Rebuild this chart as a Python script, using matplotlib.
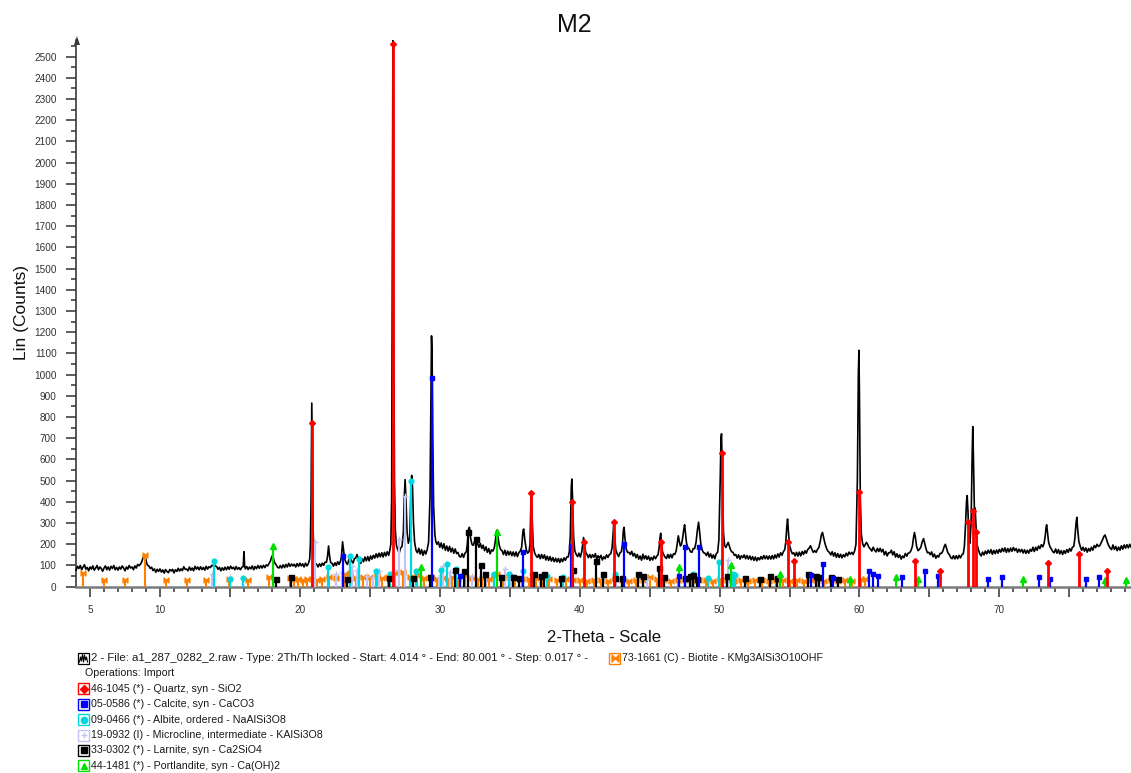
import matplotlib
matplotlib.use("Agg")
import matplotlib.pyplot as plt
from matplotlib.path import Path
from matplotlib.patches import Rectangle

plt.rcParams["font.family"] = ["Liberation Sans", "DejaVu Sans"]

# ---------------------------------------------------------------- scan data
scan_2theta = [
    4.0, 4.1, 4.2, 4.3, 4.4, 4.5, 4.6, 4.7, 4.8, 4.9,
    5.0, 5.1, 5.2, 5.3, 5.4, 5.5, 5.6, 5.7, 5.8, 5.9,
    6.0, 6.1, 6.2, 6.3, 6.4, 6.5, 6.6, 6.7, 6.8, 6.9,
    7.0, 7.1, 7.2, 7.3, 7.4, 7.5, 7.6, 7.7, 7.8, 7.9,
    8.0, 8.1, 8.2, 8.3, 8.4, 8.5, 8.6, 8.7, 8.8, 8.87,
    8.95, 9.02, 9.1, 9.2, 9.3, 9.4, 9.5, 9.6, 9.7, 9.8,
    9.9, 10.0, 10.1, 10.2, 10.3, 10.4, 10.5, 10.6, 10.7, 10.8,
    10.9, 11.0, 11.1, 11.2, 11.3, 11.4, 11.5, 11.6, 11.7, 11.8,
    11.9, 12.0, 12.1, 12.2, 12.3, 12.4, 12.5, 12.6, 12.7, 12.8,
    12.9, 13.0, 13.1, 13.2, 13.3, 13.4, 13.5, 13.6, 13.7, 13.8,
    13.88, 13.95, 14.05, 14.15, 14.25, 14.35, 14.45, 14.55, 14.65, 14.75,
    14.85, 14.95, 15.05, 15.15, 15.25, 15.35, 15.45, 15.55, 15.65, 15.75,
    15.85, 15.95, 16.0, 16.05, 16.1, 16.2, 16.3, 16.4, 16.5, 16.6,
    16.7, 16.8, 16.9, 17.0, 17.1, 17.2, 17.3, 17.4, 17.5, 17.6,
    17.7, 17.8, 17.9, 17.98, 18.05, 18.12, 18.2, 18.3, 18.4, 18.5,
    18.6, 18.7, 18.8, 18.9, 19.0, 19.1, 19.2, 19.3, 19.4, 19.5,
    19.6, 19.7, 19.8, 19.9, 20.0, 20.1, 20.2, 20.3, 20.4, 20.5,
    20.6, 20.7, 20.75, 20.8, 20.85, 20.9, 20.95, 21.0, 21.05, 21.1,
    21.2, 21.3, 21.4, 21.5, 21.6, 21.7, 21.8, 21.9, 21.97, 22.05,
    22.12, 22.2, 22.3, 22.4, 22.5, 22.6, 22.7, 22.8, 22.9, 22.97,
    23.05, 23.12, 23.2, 23.3, 23.4, 23.5, 23.6, 23.7, 23.8, 23.9,
    24.0, 24.08, 24.15, 24.25, 24.35, 24.45, 24.55, 24.65, 24.75, 24.85,
    24.95, 25.05, 25.15, 25.25, 25.35, 25.45, 25.55, 25.65, 25.75, 25.85,
    25.95, 26.05, 26.15, 26.25, 26.35, 26.42, 26.5, 26.56, 26.6, 26.63,
    26.65, 26.68, 26.71, 26.76, 26.82, 26.9, 27.0, 27.1, 27.2, 27.3,
    27.4, 27.46, 27.52, 27.58, 27.66, 27.75, 27.85, 27.93, 27.99, 28.05,
    28.12, 28.2, 28.3, 28.4, 28.5, 28.6, 28.7, 28.8, 28.9, 29.0,
    29.1, 29.2, 29.3, 29.36, 29.41, 29.45, 29.5, 29.56, 29.65, 29.72,
    29.8, 29.9, 30.0, 30.1, 30.2, 30.3, 30.4, 30.5, 30.6, 30.7,
    30.8, 30.9, 31.0, 31.1, 31.2, 31.3, 31.4, 31.5, 31.6, 31.7,
    31.8, 31.9, 31.97, 32.05, 32.12, 32.2, 32.3, 32.4, 32.48, 32.55,
    32.62, 32.7, 32.8, 32.9, 33.0, 33.1, 33.2, 33.3, 33.4, 33.5,
    33.6, 33.7, 33.8, 33.9, 33.97, 34.05, 34.1, 34.17, 34.25, 34.35,
    34.45, 34.55, 34.65, 34.75, 34.85, 34.95, 35.05, 35.15, 35.25, 35.35,
    35.45, 35.55, 35.65, 35.75, 35.85, 35.95, 36.0, 36.08, 36.18, 36.28,
    36.38, 36.45, 36.52, 36.55, 36.6, 36.68, 36.78, 36.88, 36.98, 37.08,
    37.18, 37.28, 37.38, 37.48, 37.58, 37.68, 37.78, 37.88, 37.98, 38.08,
    38.18, 38.28, 38.38, 38.48, 38.58, 38.68, 38.78, 38.88, 38.98, 39.08,
    39.18, 39.26, 39.33, 39.4, 39.44, 39.5, 39.57, 39.65, 39.75, 39.85,
    39.95, 40.05, 40.15, 40.22, 40.28, 40.35, 40.43, 40.52, 40.62, 40.72,
    40.82, 40.92, 41.02, 41.12, 41.22, 41.32, 41.42, 41.52, 41.62, 41.72,
    41.82, 41.92, 42.02, 42.12, 42.22, 42.32, 42.38, 42.44, 42.5, 42.58,
    42.68, 42.78, 42.88, 42.98, 43.06, 43.12, 43.17, 43.24, 43.32, 43.42,
    43.52, 43.62, 43.72, 43.82, 43.92, 44.02, 44.12, 44.22, 44.32, 44.42,
    44.52, 44.62, 44.72, 44.82, 44.92, 45.02, 45.12, 45.22, 45.32, 45.42,
    45.52, 45.6, 45.68, 45.74, 45.79, 45.85, 45.92, 46.0, 46.1, 46.2,
    46.3, 46.4, 46.5, 46.6, 46.7, 46.8, 46.9, 46.98, 47.05, 47.12,
    47.2, 47.28, 47.36, 47.44, 47.5, 47.56, 47.64, 47.72, 47.82, 47.92,
    48.02, 48.12, 48.22, 48.32, 48.42, 48.5, 48.58, 48.66, 48.76, 48.86,
    48.96, 49.06, 49.16, 49.26, 49.36, 49.46, 49.56, 49.66, 49.76, 49.86,
    49.95, 50.05, 50.1, 50.14, 50.2, 50.28, 50.36, 50.45, 50.55, 50.62,
    50.7, 50.78, 50.86, 50.96, 51.06, 51.16, 51.26, 51.36, 51.46, 51.56,
    51.66, 51.76, 51.86, 51.96, 52.06, 52.16, 52.26, 52.36, 52.46, 52.56,
    52.66, 52.76, 52.86, 52.96, 53.06, 53.16, 53.26, 53.36, 53.46, 53.56,
    53.66, 53.76, 53.86, 53.96, 54.06, 54.16, 54.26, 54.36, 54.46, 54.56,
    54.66, 54.74, 54.8, 54.86, 54.92, 55.0, 55.1, 55.2, 55.3, 55.4,
    55.5, 55.6, 55.7, 55.8, 55.9, 56.0, 56.1, 56.2, 56.3, 56.4,
    56.5, 56.6, 56.7, 56.8, 56.9, 57.0, 57.1, 57.2, 57.28, 57.36,
    57.45, 57.55, 57.65, 57.75, 57.85, 57.95, 58.05, 58.15, 58.25, 58.35,
    58.45, 58.55, 58.65, 58.75, 58.85, 58.95, 59.05, 59.15, 59.25, 59.35,
    59.45, 59.55, 59.65, 59.75, 59.85, 59.92, 59.96, 60.0, 60.06, 60.13,
    60.22, 60.32, 60.42, 60.5, 60.58, 60.68, 60.78, 60.88, 60.98, 61.08,
    61.18, 61.28, 61.38, 61.48, 61.58, 61.68, 61.78, 61.88, 61.98, 62.08,
    62.18, 62.28, 62.38, 62.48, 62.58, 62.68, 62.78, 62.88, 62.98, 63.08,
    63.18, 63.28, 63.38, 63.48, 63.58, 63.68, 63.78, 63.86, 63.93, 64.0,
    64.08, 64.18, 64.28, 64.38, 64.48, 64.58, 64.66, 64.76, 64.86, 64.96,
    65.06, 65.16, 65.26, 65.36, 65.46, 65.56, 65.66, 65.76, 65.86, 65.96,
    66.06, 66.14, 66.22, 66.32, 66.42, 66.52, 66.62, 66.72, 66.82, 66.92,
    67.02, 67.12, 67.22, 67.32, 67.42, 67.5, 67.58, 67.65, 67.7, 67.76,
    67.82, 67.9, 67.98, 68.05, 68.1, 68.15, 68.22, 68.27, 68.32, 68.4,
    68.5, 68.6, 68.7, 68.8, 68.9, 69.0, 69.1, 69.2, 69.3, 69.4,
    69.5, 69.6, 69.7, 69.8, 69.9, 70.0, 70.1, 70.2, 70.3, 70.4,
    70.5, 70.6, 70.7, 70.8, 70.9, 71.0, 71.1, 71.2, 71.3, 71.4,
    71.5, 71.6, 71.7, 71.8, 71.9, 72.0, 72.1, 72.2, 72.3, 72.4,
    72.5, 72.6, 72.7, 72.8, 72.9, 73.0, 73.1, 73.2, 73.28, 73.34,
    73.38, 73.44, 73.52, 73.62, 73.72, 73.82, 73.92, 74.02, 74.12, 74.22,
    74.32, 74.42, 74.52, 74.62, 74.72, 74.82, 74.92, 75.02, 75.12, 75.22,
    75.32, 75.4, 75.48, 75.54, 75.6, 75.68, 75.78, 75.88, 75.98, 76.08,
    76.18, 76.28, 76.38, 76.48, 76.58, 76.68, 76.78, 76.88, 76.98, 77.08,
    77.18, 77.28, 77.38, 77.46, 77.55, 77.64, 77.72, 77.82, 77.92, 78.02,
    78.12, 78.22, 78.32, 78.42, 78.52, 78.62, 78.72, 78.82, 78.92, 79.02,
    79.12, 79.22, 79.32, 79.4,
]
scan_counts = [
    78, 96, 86, 100, 80, 93, 103, 83, 91, 75,
    93, 83, 98, 78, 88, 100, 80, 93, 86, 73,
    88, 98, 80, 93, 78, 96, 86, 100, 80, 91,
    78, 93, 83, 98, 88, 75, 93, 83, 100, 88,
    93, 80, 98, 88, 105, 99, 106, 118, 140, 152,
    142, 118, 102, 98, 86, 92, 76, 84, 68, 82,
    72, 84, 69, 79, 64, 81, 72, 66, 81, 74,
    82, 65, 80, 72, 87, 74, 84, 76, 94, 82,
    83, 75, 93, 78, 88, 75, 96, 83, 93, 80,
    94, 81, 91, 78, 96, 83, 94, 90, 101, 98,
    108, 97, 95, 82, 91, 75, 89, 78, 92, 80,
    94, 82, 97, 85, 92, 80, 95, 82, 90, 80,
    92, 95, 165, 98, 84, 95, 81, 93, 84, 98,
    80, 95, 85, 100, 87, 99, 88, 101, 90, 103,
    98, 110, 122, 140, 148, 132, 112, 104, 92, 88,
    100, 88, 103, 90, 105, 93, 110, 96, 107, 98,
    106, 93, 109, 96, 111, 98, 108, 93, 111, 98,
    108, 130, 200, 420, 866, 560, 260, 150, 125, 110,
    106, 93, 108, 96, 111, 101, 116, 115, 140, 192,
    145, 114, 110, 97, 113, 100, 118, 105, 120, 140,
    212, 172, 130, 114, 105, 127, 139, 121, 111, 133,
    136, 152, 140, 122, 110, 132, 118, 140, 122, 142,
    122, 145, 130, 148, 135, 155, 138, 158, 141, 160,
    140, 162, 145, 165, 148, 168, 200, 420, 1400, 2300,
    2575, 2300, 1200, 500, 270, 195, 174, 160, 182, 190,
    260, 420, 505, 420, 260, 205, 230, 440, 525, 470,
    300, 210, 172, 160, 181, 154, 175, 148, 170, 154,
    175, 210, 420, 850, 1183, 1100, 700, 380, 245, 212,
    200, 212, 186, 206, 180, 203, 172, 192, 168, 190,
    164, 182, 158, 178, 156, 162, 143, 140, 156, 138,
    158, 165, 200, 270, 280, 230, 200, 195, 212, 225,
    228, 205, 186, 204, 180, 196, 170, 188, 162, 180,
    155, 174, 168, 185, 215, 262, 267, 230, 195, 175,
    170, 152, 172, 148, 168, 150, 166, 146, 164, 144,
    164, 142, 160, 168, 185, 265, 272, 220, 175, 158,
    165, 200, 420, 430, 330, 190, 160, 146, 138, 152,
    132, 152, 134, 150, 126, 144, 124, 142, 121, 137,
    118, 134, 117, 133, 114, 132, 118, 136, 124, 140,
    140, 165, 240, 470, 508, 400, 230, 170, 152, 142,
    158, 140, 165, 200, 232, 200, 162, 152, 137, 152,
    136, 151, 139, 156, 131, 146, 134, 148, 126, 141,
    132, 150, 138, 152, 155, 185, 240, 304, 240, 175,
    155, 142, 160, 165, 200, 265, 280, 225, 180, 162,
    162, 152, 167, 145, 157, 137, 152, 130, 145, 125,
    153, 131, 146, 129, 144, 124, 138, 126, 144, 132,
    145, 150, 185, 230, 252, 205, 165, 152, 140, 133,
    152, 135, 153, 136, 155, 152, 170, 205, 240, 215,
    192, 200, 230, 270, 292, 255, 205, 185, 180, 165,
    162, 180, 180, 210, 270, 304, 255, 200, 172, 160,
    158, 147, 163, 140, 155, 135, 150, 132, 155, 162,
    220, 520, 700, 721, 500, 255, 195, 185, 200, 209,
    192, 175, 165, 162, 148, 152, 135, 150, 130, 146,
    137, 150, 132, 147, 130, 145, 127, 142, 124, 140,
    122, 137, 127, 142, 130, 147, 132, 145, 130, 145,
    130, 147, 131, 150, 135, 155, 140, 160, 148, 165,
    175, 215, 280, 319, 260, 195, 172, 155, 160, 145,
    162, 144, 163, 145, 166, 152, 170, 158, 175, 182,
    193, 176, 162, 170, 162, 176, 185, 215, 245, 256,
    228, 200, 180, 167, 162, 150, 165, 144, 160, 139,
    156, 138, 153, 136, 151, 141, 158, 146, 163, 153,
    162, 152, 168, 200, 500, 1000, 1115, 900, 420, 250,
    205, 188, 200, 209, 200, 185, 178, 168, 186, 172,
    164, 181, 166, 181, 164, 176, 150, 166, 145, 160,
    160, 172, 150, 165, 140, 155, 138, 150, 130, 145,
    137, 157, 144, 158, 160, 170, 190, 230, 256, 232,
    192, 170, 176, 185, 210, 227, 205, 178, 160, 162,
    151, 164, 141, 154, 134, 147, 140, 157, 157, 168,
    190, 200, 182, 160, 152, 138, 132, 146, 131, 146,
    132, 148, 136, 150, 155, 190, 290, 400, 430, 350,
    235, 205, 300, 600, 755, 600, 340, 370, 300, 200,
    175, 155, 145, 163, 150, 168, 155, 172, 158, 175,
    153, 171, 156, 173, 158, 176, 163, 181, 166, 183,
    162, 180, 164, 182, 167, 185, 170, 180, 162, 177,
    164, 176, 159, 174, 157, 172, 158, 176, 167, 186,
    166, 186, 172, 192, 180, 198, 188, 205, 240, 280,
    292, 255, 210, 188, 178, 165, 160, 178, 158, 175,
    155, 170, 152, 170, 157, 175, 162, 180, 168, 186,
    190, 230, 300, 327, 270, 215, 190, 172, 186, 168,
    183, 163, 180, 168, 186, 172, 194, 184, 200, 190,
    194, 208, 222, 236, 244, 228, 210, 193, 182, 175,
    197, 176, 190, 170, 187, 172, 193, 177, 197, 182,
    198, 183, 200, 188,
]

# ------------------------------------------------------- reference patterns
quartz_2theta = [20.86, 26.64, 36.54, 39.47, 40.29, 42.45, 45.79, 50.14, 54.87,
                 55.33, 59.96, 63.99, 65.79, 67.74, 68.14, 68.31, 73.46, 75.66, 77.67]
quartz_height = [770, 2560, 443, 398, 209, 304, 209, 630, 211,
                 119, 445, 119, 73, 304, 358, 256, 114, 155, 72]

calcite_2theta = [23.06, 29.41, 31.44, 35.97, 39.40, 43.16, 47.12, 47.50, 48.51, 56.57,
                  57.41, 58.09, 60.66, 60.96, 61.30, 63.05, 64.65, 65.60, 69.20, 70.20,
                  72.85, 73.60, 76.20, 77.10]
calcite_height = [145, 985, 50, 162, 193, 201, 50, 188, 188, 55,
                  106, 40, 75, 62, 51, 44, 75, 51, 35, 44,
                  44, 35, 35, 44]

albite_2theta = [13.87, 15.00, 15.90, 22.03, 23.55, 24.25, 25.45, 26.44, 27.95, 28.28,
                 30.10, 30.50, 31.16, 33.90, 34.97, 35.97, 36.60, 37.64, 38.83, 42.50,
                 48.10, 49.20, 49.96, 50.98, 51.10]
albite_height = [122, 35, 40, 95, 146, 130, 75, 59, 500, 75,
                 80, 106, 83, 60, 59, 75, 60, 50, 45, 59,
                 62, 40, 116, 62, 55]

microcline_2theta = [13.70, 15.00, 21.05, 22.55, 23.00, 23.70, 24.10, 24.80, 25.20, 25.65,
                     26.75, 27.10, 27.52, 29.95, 30.20, 30.75, 32.30, 33.30, 34.66, 35.10,
                     37.15, 41.70, 42.60, 44.80, 50.60]
microcline_height = [59, 45, 210, 60, 70, 97, 80, 50, 45, 75,
                     80, 225, 430, 45, 97, 70, 50, 55, 83, 60,
                     50, 40, 45, 35, 125]

larnite_2theta = [18.29, 19.35, 23.35, 26.40, 28.10, 29.30, 31.08, 31.75, 32.05, 32.60,
                  32.95, 33.20, 34.40, 35.20, 35.65, 36.75, 37.20, 37.45, 38.70, 39.50,
                  41.20, 41.70, 42.50, 43.00, 44.20, 44.50, 45.70, 46.00, 47.50, 47.90,
                  48.10, 48.40, 50.50, 51.80, 52.90, 53.60, 54.10, 56.30, 56.90, 57.10,
                  58.00, 58.50]
larnite_height = [35, 48, 35, 40, 40, 48, 78, 75, 258, 225,
                  100, 60, 45, 48, 40, 59, 50, 62, 40, 80,
                  120, 59, 40, 40, 58, 50, 86, 45, 40, 51,
                  55, 35, 49, 40, 35, 49, 40, 59, 49, 45,
                  45, 35]

portlandite_2theta = [18.09, 28.68, 34.10, 47.12, 50.80, 54.34, 59.30, 62.60, 64.20,
                      71.70, 77.55, 79.05]
portlandite_height = [190, 91, 258, 91, 102, 59, 35, 44, 38,
                      35, 31, 33]

biotite_2theta = [4.52, 6.02, 7.50, 8.90, 10.45, 11.90, 13.30, 14.90, 16.30, 17.80,
                  19.30, 19.60, 19.90, 20.20, 20.50, 20.90, 21.20, 21.60, 22.10, 22.60,
                  23.20, 23.60, 24.00, 24.50, 25.00, 25.50, 25.90, 26.30, 26.80, 27.40,
                  27.90, 28.35, 28.90, 29.40, 29.80, 30.20, 30.60, 30.90, 31.30, 31.80,
                  32.30, 32.70, 33.00, 33.50, 33.90, 34.10, 34.50, 35.00, 35.40, 35.90,
                  36.40, 36.90, 37.30, 37.80, 38.40, 39.00, 39.50, 40.00, 40.50, 41.00,
                  41.50, 42.00, 42.50, 43.00, 43.50, 44.00, 44.50, 45.00, 45.50, 46.00,
                  46.50, 47.00, 47.50, 48.00, 48.50, 49.00, 49.50, 50.00, 50.50, 51.00,
                  51.50, 52.00, 52.50, 53.00, 53.50, 54.00, 54.50, 55.00, 55.50, 56.00,
                  56.50, 57.00, 57.50, 58.00, 58.50, 59.00, 59.50, 60.10, 60.40]
biotite_height = [65, 33, 33, 150, 33, 33, 33, 35, 33, 45,
                  40, 35, 38, 32, 35, 35, 30, 35, 48, 40,
                  59, 64, 40, 48, 45, 53, 40, 48, 64, 67,
                  45, 53, 40, 48, 35, 40, 38, 45, 35, 57,
                  40, 35, 40, 35, 50, 59, 45, 40, 35, 38,
                  35, 40, 45, 35, 30, 35, 30, 32, 28, 30,
                  32, 28, 35, 30, 28, 32, 30, 45, 35, 30,
                  28, 32, 30, 28, 32, 30, 28, 35, 30, 28,
                  30, 28, 32, 30, 28, 30, 32, 28, 30, 28,
                  32, 30, 28, 30, 28, 30, 28, 35, 38]

x_tick_labels = [5, 10, 20, 30, 40, 50, 60, 70]

legend_rows = [
    ("46-1045 (*) - Quartz, syn - SiO2", "#ff0000", "D"),
    ("05-0586 (*) - Calcite, syn - CaCO3", "#0000ff", "s"),
    ("09-0466 (*) - Albite, ordered - NaAlSi3O8", "#00d8e0", "o"),
    ("19-0932 (I) - Microcline, intermediate - KAlSi3O8", "#c4c4f2", "+"),
    ("33-0302 (*) - Larnite, syn - Ca2SiO4", "#000000", "s"),
    ("44-1481 (*) - Portlandite, syn - Ca(OH)2", "#00e000", "^"),
]
scan_caption = ("2 - File: a1_287_0282_2.raw - Type: 2Th/Th locked - Start: 4.014 \u00b0 - "
                "End: 80.001 \u00b0 - Step: 0.017 \u00b0 -")
biotite_caption = "73-1661 (C) - Biotite - KMg3AlSi3O10OHF"

assert len(scan_2theta) == len(scan_counts)

# bow-tie marker used for the biotite card
bowtie = Path([(-1, -1), (-1, 1), (0, 0), (-1, -1), (1, 1), (1, -1), (0, 0), (1, 1)],
              [Path.MOVETO, Path.LINETO, Path.LINETO, Path.CLOSEPOLY,
               Path.MOVETO, Path.LINETO, Path.LINETO, Path.CLOSEPOLY])

# ------------------------------------------------------------------ figure
W, H = 1131, 773
fig = plt.figure(figsize=(W / 100, H / 100), dpi=100)
fig.patch.set_facecolor("white")

left_px, right_px = 76.06, 1131.0
base_px, top_px = 586.7, 39.7
ax = fig.add_axes([left_px / W, 1 - base_px / H,
                   (right_px - left_px) / W, (base_px - top_px) / H])
ax.set_xlim(4.0, 79.41)
ax.set_ylim(0, 2580)

for side in ("top", "right"):
    ax.spines[side].set_visible(False)
ax.spines["left"].set_color("#3a3a3a")
ax.spines["left"].set_linewidth(1.2)
ax.spines["bottom"].set_color("#7a7a7a")
ax.spines["bottom"].set_linewidth(1.8)

# long ticks every 5 degrees, labelled at 5 and at every 10 degrees
major_x = list(range(5, 80, 5))
ax.set_xticks(major_x)
ax.set_xticklabels([str(v) if v in x_tick_labels else "" for v in major_x])
ax.set_xticks(range(5, 80), minor=True)
ax.set_yticks(range(0, 2501, 100))
ax.set_yticklabels([str(v) for v in range(0, 2501, 100)])
ax.set_yticks(range(0, 2551, 50), minor=True)
ax.tick_params(axis="both", which="major", direction="out", length=7.5, width=1.1,
               color="#303030", labelsize=7.2, labelcolor="#333333")
ax.tick_params(axis="both", which="minor", direction="out", length=3.8, width=1.1,
               color="#303030")
ax.tick_params(axis="x", which="major", pad=6)
ax.tick_params(axis="y", which="major", pad=6.5)

# measured scan
ax.plot(scan_2theta, scan_counts, color="black", lw=1.2, zorder=3, clip_on=False)


def draw_sticks(pos, hts, color, marker, lw=1.6, ms=3.4, z=4):
    ax.vlines(pos, 0, hts, colors=color, lw=lw, zorder=z)
    mfc = color if marker != "+" else "none"
    ax.plot(pos, hts, ls="none", marker=marker, color=color, mfc=mfc,
            mew=1.0, ms=ms, zorder=z + 0.1, clip_on=False)


draw_sticks(biotite_2theta, biotite_height, "#ff8000", bowtie, lw=1.5, ms=3.5, z=4)
draw_sticks(microcline_2theta, microcline_height, "#c4c4f2", "+", ms=4.2, z=4.3)
draw_sticks(albite_2theta, albite_height, "#00d8e0", "o", ms=3.4, z=4.5)
draw_sticks(larnite_2theta, larnite_height, "#000000", "s", ms=3.6, z=4.6)
draw_sticks(portlandite_2theta, portlandite_height, "#00e000", "^", ms=3.8, z=4.7)
draw_sticks(calcite_2theta, calcite_height, "#0000ff", "s", ms=3.4, z=4.8)
draw_sticks(quartz_2theta, quartz_height, "#ff0000", "D", lw=2.0, ms=3.0, z=4.9)

# ------------------------------------------------ overlay in pixel units
ov = fig.add_axes([0, 0, 1, 1])
ov.set_xlim(0, W)
ov.set_ylim(H, 0)
ov.axis("off")

# arrow head on the intensity axis
ov.fill([77.0, 74.0, 80.0], [36.0, 45.0, 45.0], color="#3a3a3a", lw=0)

ov.text(574, 25, "M2", ha="center", va="center", fontsize=18, color="#111111")
ov.text(604, 638, "2-Theta - Scale", ha="center", va="center", fontsize=12, color="#111111")
ov.text(22, 313, "Lin (Counts)", ha="center", va="center", rotation=90,
        fontsize=12.5, color="#111111")

leg_fs = 7.7
row_y0, row_step = 658.0, 15.4

# scan entry icon: framed miniature pattern
ov.add_patch(Rectangle((78, row_y0 - 5.5), 11, 11, fill=False, ec="black", lw=0.9))
ov.plot([79.5, 80.5, 81.5, 82.5, 83.5, 84.5, 85.5, 86.5, 87.5],
        [row_y0 + 4, row_y0 - 1, row_y0 + 3, row_y0 - 4, row_y0 + 4, row_y0 - 3,
         row_y0 + 2, row_y0 - 1, row_y0 + 4], color="black", lw=0.8)
ov.text(91, row_y0, scan_caption, ha="left", va="center", fontsize=8.2, color="#1a1a1a")

ov.add_patch(Rectangle((609, row_y0 - 5.5), 11, 11, fill=False, ec="#ff8000", lw=1.0))
ov.plot([614.5], [row_y0], ls="none", marker=bowtie, color="#ff8000", ms=5)
ov.text(622, row_y0, biotite_caption, ha="left", va="center", fontsize=leg_fs,
        color="#1a1a1a")

ov.text(85, row_y0 + row_step, "Operations: Import", ha="left", va="center",
        fontsize=leg_fs, color="#1a1a1a")

for i, (label, color, marker) in enumerate(legend_rows):
    y = row_y0 + row_step * (i + 2)
    ov.add_patch(Rectangle((78, y - 5.5), 11, 11, fill=False, ec=color, lw=1.0))
    mfc = color if marker != "+" else "none"
    ov.plot([83.5], [y], ls="none", marker=marker, color=color, mfc=mfc,
            ms=4.5 if marker != "D" else 4.0, mew=1.0)
    ov.text(91, y, label, ha="left", va="center", fontsize=leg_fs, color="#1a1a1a")

fig.savefig("out.png", dpi=100)
